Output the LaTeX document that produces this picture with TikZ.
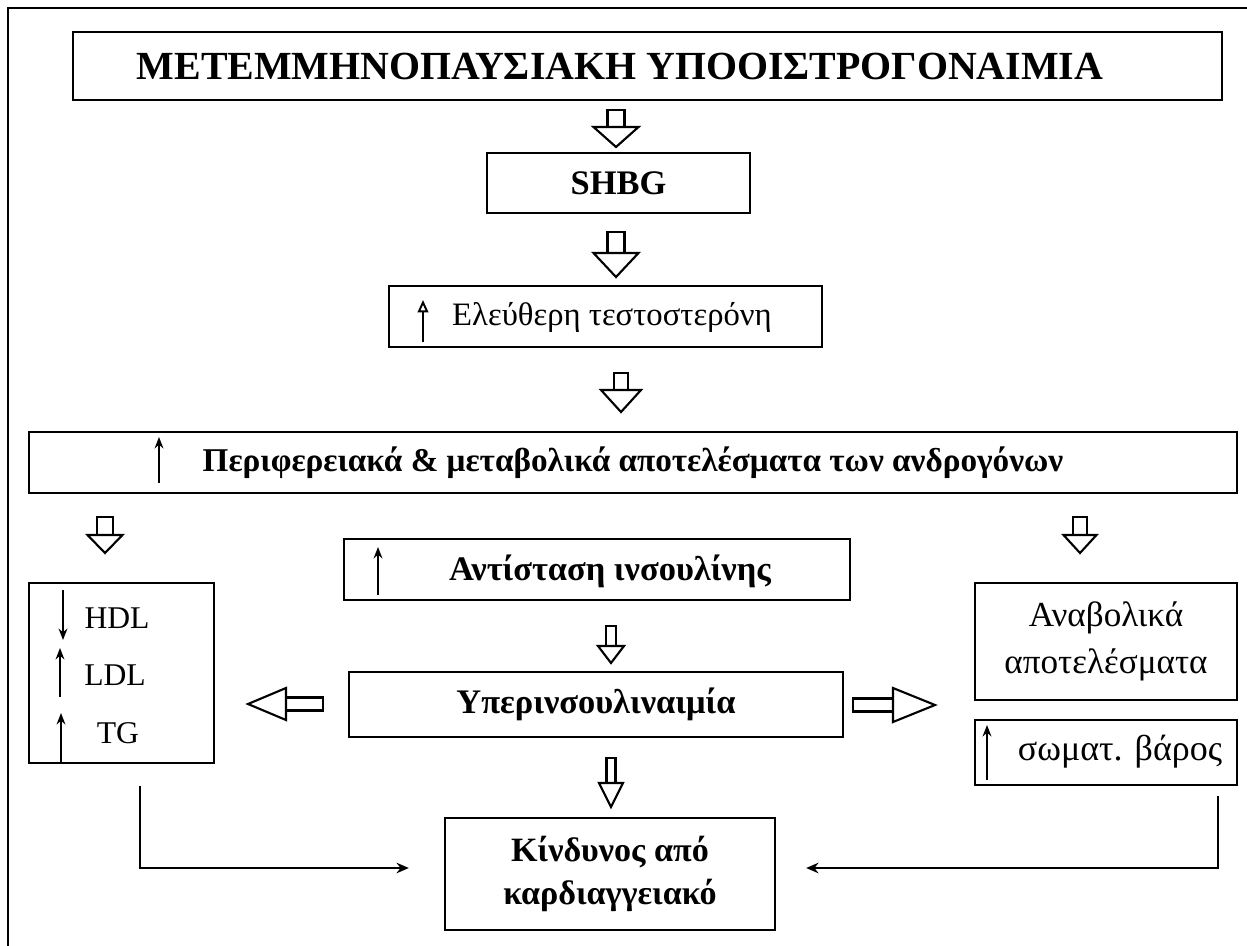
\documentclass[tikz,border=0pt]{standalone}
\usepackage{fontspec}
\setmainfont{Liberation Serif}
\usetikzlibrary{arrows.meta,calc,positioning}
\newcommand\bodyfont{\fontsize{18}{22}\selectfont}
\newcommand\bigfont{\fontsize{19.6}{24}\selectfont}

\tikzset{
  box/.style={draw,line width=1.4pt,inner sep=0pt,align=center,font=\bodyfont},
  boldbox/.style={box,font=\bigfont\bfseries},
  txt/.style={inner sep=0pt,font=\bodyfont},
  hollow/.style={draw,line width=1.2pt,fill=white,line join=miter},
  uparr/.style={line width=1.1pt,-{Stealth[length=6.5pt,width=5pt]}},
  conn/.style={line width=1.2pt,-{Stealth[length=7pt,width=6pt]}},
  % stem half width, stem length, head half width, head length
  pics/hollowdown/.style n args={4}{code={
    \draw[hollow] (-#1,0) rectangle (#1,#2);
    \draw[hollow] (-#3,#2) -- (#3,#2) -- (0,{#2+#4}) -- cycle;
  }},
}

\begin{document}
\begin{tikzpicture}[x=0.02cm,y=-0.02cm]
\useasboundingbox (0,0) rectangle (1247,946);

%% outer frame (runs off the page right and bottom)
\draw[line width=1.1pt] (8,946) -- (8,8) -- (1247,8);

%% ── main column ──────────────────────────────────────────────
\node[box,minimum width=22.98cm,minimum height=1.36cm] (title) at (647.5,66) {};
\node[txt,font=\fontsize{22.7}{26}\selectfont\bfseries] (titletext) at (620,66)
  {ΜΕΤΕΜΜΗΝΟΠΑΥΣΙΑΚΗ ΥΠΟΟΙΣΤΡΟΓΟΝΑΙΜΙΑ};

\pic at (616,110) {hollowdown={8.5}{17}{22.5}{20}};

\node[boldbox,minimum width=5.26cm,minimum height=1.2cm] (shbg) at (618.5,183) {SHBG};

\pic at (616,232) {hollowdown={8.5}{21}{22.5}{24}};

\node[box,minimum width=8.66cm,minimum height=1.22cm] (testo) at (605.5,316.5) {};
\node[txt,font=\fontsize{18.6}{22}\selectfont] (testotext) at (612,317) {Ελεύθερη τεστοστερόνη};
\draw[line width=1.1pt,-{Triangle[open,length=7pt,width=6pt]}] (423,342) -- (423,300);

\pic at (621,373) {hollowdown={7}{17}{20}{22}};

\node[box,font=\fontsize{18.9}{22}\selectfont\bfseries,minimum width=24.16cm,minimum height=1.22cm] (periph) at (633,462.5)
  {Περιφερειακά \& μεταβολικά αποτελέσματα των ανδρογόνων};
\draw[uparr] (159,483) -- (159,437);

%% ── branches ────────────────────────────────────────────────
\pic at (105,517) {hollowdown={8}{18}{17.5}{18}};
\pic at (1080,517) {hollowdown={7}{18}{16.5}{18}};

%% insulin resistance
\node[box,minimum width=10.12cm,minimum height=1.22cm] (antist) at (597,569.5) {};
\node[txt,font=\bigfont\bfseries] (antisttext) at (610,571) {Αντίσταση ινσουλίνης};
\draw[uparr] (378,595) -- (378,547);

\pic at (611,626) {hollowdown={5}{20}{13}{17}};

\node[boldbox,minimum width=9.88cm,minimum height=1.3cm] (hyper) at (596,704.5) {Υπερινσουλιναιμία};

%% lipids
\node[box,minimum width=3.7cm,minimum height=3.6cm] (lipid) at (121.5,673) {};
\node[txt] (hdl) at (117,618) {HDL};
\node[txt] (ldl) at (115,675) {LDL};
\node[txt] (tg) at (118,733) {TG};
\draw[uparr] (63,590) -- (63,640);
\draw[uparr] (60,697) -- (60,648);
\draw[uparr] (61,763) -- (61,713);

%% anabolic effects
\node[box,minimum width=5.24cm,minimum height=2.34cm,font=\fontsize{20}{26.5}\selectfont] (anab) at (1106,641.5)
  {Αναβολικά\\αποτελέσματα};
\node[box,minimum width=5.24cm,minimum height=1.3cm] (weight) at (1106,752.5) {};
\node[txt,font=\fontsize{20.5}{24}\selectfont] (weighttext) at (1120,752) {σωματ. βάρος};
\draw[uparr] (987,780) -- (987,725);

%% side arrows from hyperinsulinaemia
\pic[rotate=-90] at (323,704) {hollowdown={6.5}{37}{16}{38}};
\pic[rotate=90] at (853,705) {hollowdown={6.5}{40}{17}{42}};

\pic at (611,758) {hollowdown={4.5}{25}{12}{24}};

%% cardiovascular risk
\node[boldbox,minimum width=6.6cm,minimum height=2.24cm,font=\fontsize{19.4}{24.4}\selectfont\bfseries] (risk) at (610,874)
  {Κίνδυνος από\\καρδιαγγειακό};

\draw[conn,shorten <=0.44cm,shorten >=0.7cm] ([xshift=0.37cm]lipid.south) |- ([yshift=0.12cm]risk.west);
\draw[conn,shorten <=0.2cm,shorten >=0.6cm] ([xshift=2.24cm]weight.south) |- ([yshift=0.12cm]risk.east);

\end{tikzpicture}
\end{document}
